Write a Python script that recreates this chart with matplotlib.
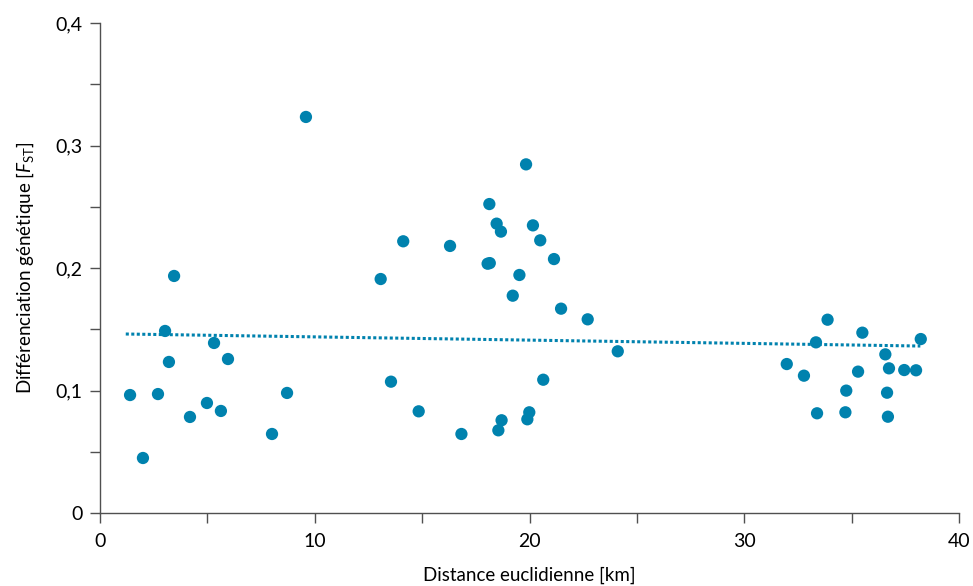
import numpy as np
import matplotlib
matplotlib.use('Agg')
import matplotlib.pyplot as plt
from matplotlib.ticker import MultipleLocator, FixedLocator, FixedFormatter

# distance euclidienne (km) et Fst
dist = [1.4, 2.0, 2.7, 3.03, 3.21, 3.45, 4.19, 4.98, 5.31, 5.63, 5.96, 8.01, 8.71, 9.59,
        13.07, 13.55, 14.12, 14.84, 16.30, 16.83, 18.05, 18.15, 18.13, 18.47, 18.55, 18.67,
        18.70, 19.22, 19.53, 19.84, 19.90, 19.99, 20.16, 20.50, 20.64, 21.14, 21.47, 22.71, 24.11,
        31.98, 32.78, 33.34, 33.39, 33.88, 34.71, 34.75, 35.30, 35.50, 36.57, 36.65, 36.69,
        36.74, 37.45, 38.0, 38.22]
fst = [0.0963, 0.0449, 0.0971, 0.1486, 0.1233, 0.1935, 0.0784, 0.0898, 0.1388, 0.0833, 0.1257, 0.0645, 0.0980, 0.3233,
       0.1910, 0.1072, 0.2218, 0.0830, 0.2180, 0.0645, 0.2035, 0.2040, 0.2522, 0.2362, 0.0675, 0.2297,
       0.0757, 0.1774, 0.1943, 0.2846, 0.0765, 0.0822, 0.2348, 0.2226, 0.1088, 0.2073, 0.1668, 0.1581, 0.1320,
       0.1216, 0.1121, 0.1393, 0.0814, 0.1578, 0.0822, 0.0999, 0.1154, 0.1472, 0.1295, 0.0982, 0.0786,
       0.1181, 0.1167, 0.1165, 0.1420]

y_labels = ['0', '0,1', '0,2', '0,3', '0,4']
x_labels = ['0', '10', '20', '30', '40']

plt.rcParams['font.family'] = ['Lato', 'DejaVu Sans']
plt.rcParams['mathtext.fontset'] = 'custom'
plt.rcParams['mathtext.it'] = 'Lato:italic'
plt.rcParams['mathtext.rm'] = 'Lato'

couleur = '#0082AE'
gris = '#505050'

fig = plt.figure(figsize=(9.73, 5.86), dpi=100)
ax = fig.add_axes([100/973, 73/586, 859/973, 490/586])

ax.scatter(dist, fst, s=78, color=couleur, edgecolors='none', zorder=3)

# droite de tendance (regression lineaire)
a, b = np.polyfit(dist, fst, 1)
xt = np.array([1.2, 38.2])
ax.plot(xt, a*xt + b, linestyle=(0, (1, 0.8)), color=couleur, linewidth=2.2)

ax.set_xlim(0, 40)
ax.set_ylim(0, 0.4)
ax.spines['top'].set_visible(False)
ax.spines['right'].set_visible(False)
for s in ['left', 'bottom']:
    ax.spines[s].set_color(gris)
    ax.spines[s].set_linewidth(1.0)

ax.xaxis.set_major_locator(FixedLocator([0, 10, 20, 30, 40]))
ax.xaxis.set_major_formatter(FixedFormatter(x_labels))
ax.xaxis.set_minor_locator(MultipleLocator(5))
ax.yaxis.set_major_locator(FixedLocator([0, 0.1, 0.2, 0.3, 0.4]))
ax.yaxis.set_major_formatter(FixedFormatter(y_labels))
ax.yaxis.set_minor_locator(MultipleLocator(0.05))
ax.tick_params(which='both', length=7.5, width=1.0, color=gris, labelsize=14)
ax.tick_params(axis='x', pad=7)
ax.tick_params(axis='y', pad=5)

ax.set_xlabel('Distance euclidienne [km]', fontsize=13.5, labelpad=12)
ax.set_ylabel(r'Différenciation génétique [$F_{\mathrm{ST}}$]', fontsize=13.5, labelpad=14)

plt.savefig('out.png', dpi=100)
